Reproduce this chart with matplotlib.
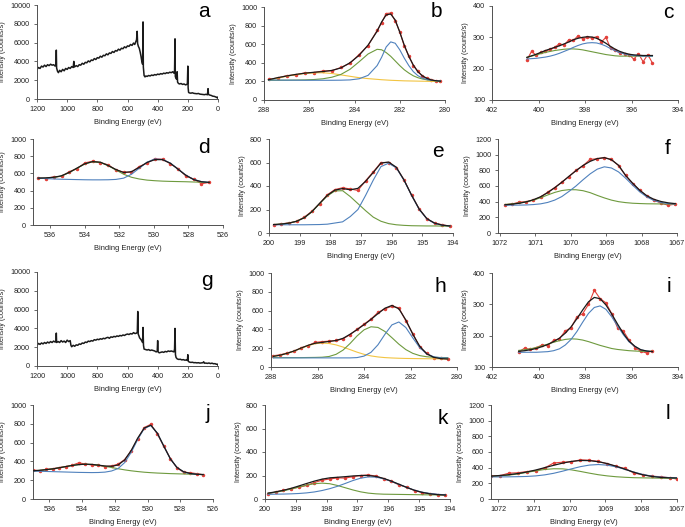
import matplotlib
matplotlib.use("Agg")
from matplotlib import pyplot as plt

plt.rcParams['font.family'] = ['Liberation Sans', 'DejaVu Sans']

# ---- survey spectra (a, g) ----
a_be = [1200, 1190, 1180, 1170, 1160, 1150, 1140, 1130, 1120, 1110, 1100, 1090, 1080, 1074, 1072, 1070,
        1064, 1058, 1050, 1040, 1030, 1020, 1010, 1000, 990, 980, 970, 960, 956, 952, 940, 930, 920, 910,
        900, 890, 880, 870, 860, 850, 840, 830, 820, 810, 800, 790, 780, 770, 760, 750, 740, 730, 720,
        710, 700, 690, 680, 670, 660, 650, 640, 630, 620, 610, 600, 590, 580, 570, 560, 552, 545, 540,
        536, 533, 528, 522, 516, 510, 505, 500, 497, 495, 490, 484, 478, 470, 460, 450, 440, 430, 420,
        410, 400, 390, 380, 370, 360, 350, 340, 330, 320, 310, 300, 292, 288, 285, 283, 279, 274, 271,
        268, 262, 255, 245, 235, 225, 215, 207, 203, 200, 198, 195, 190, 180, 170, 160, 150, 140, 130,
        120, 110, 100, 90, 80, 70, 66, 63, 55, 45, 35, 25, 15, 8, 3, 0]
a_cts = [3150, 3350, 3250, 3500, 3400, 3600, 3450, 3650, 3550, 3700, 3600, 3650, 3500, 3700, 5200, 3300,
         2950, 2800, 3050, 2900, 3150, 3000, 3250, 3150, 3350, 3250, 3450, 3350, 4000, 3400, 3550, 3450,
         3650, 3600, 3800, 3700, 3900, 3850, 4050, 3950, 4150, 4100, 4300, 4200, 4400, 4350, 4550, 4450,
         4650, 4600, 4800, 4700, 4900, 4850, 5050, 4950, 5150, 5100, 5300, 5200, 5400, 5350, 5550, 5450,
         5650, 5600, 5800, 5700, 5950, 5800, 6100, 6300, 7200, 5900, 5600, 5400, 5000, 4500, 4000, 3700,
         8200, 3400, 2500, 2350, 2450, 2400, 2500, 2450, 2550, 2500, 2600, 2550, 2650, 2600, 2700, 2650,
         2750, 2700, 2800, 2750, 2850, 2800, 2900, 2750, 3000, 6400, 2400, 2200, 2100, 2900, 1800, 1650,
         1600, 1650, 1550, 1600, 1500, 1550, 1600, 3500, 1200, 700, 650, 620, 660, 600, 580, 560, 590,
         520, 500, 480, 460, 500, 450, 1100, 480, 420, 380, 300, 280, 220, 150, 200, 80]

g_be = [1200, 1190, 1180, 1170, 1160, 1150, 1140, 1130, 1120, 1110, 1100, 1090, 1080, 1074, 1072, 1070,
        1060, 1050, 1040, 1030, 1020, 1010, 1000, 990, 980, 975, 970, 960, 950, 940, 930, 920, 910, 900,
        890, 880, 870, 860, 850, 840, 830, 820, 810, 800, 790, 780, 770, 760, 750, 740, 730, 720, 710,
        700, 690, 680, 670, 660, 650, 640, 630, 620, 610, 600, 590, 580, 570, 560, 550, 540, 535, 532,
        529, 524, 520, 510, 500, 497, 494, 490, 480, 470, 460, 450, 440, 430, 420, 410, 403, 400, 397,
        390, 380, 370, 360, 350, 340, 330, 320, 310, 300, 292, 288, 285, 282, 278, 270, 260, 250, 240,
        230, 220, 210, 203, 200, 197, 190, 180, 170, 160, 150, 140, 130, 120, 110, 100, 95, 90, 80, 70,
        60, 50, 40, 30, 20, 10, 5, 0]
g_cts = [2200, 2400, 2300, 2450, 2350, 2500, 2400, 2550, 2450, 2600, 2500, 2650, 2550, 2600, 3500, 2500,
         2600, 2500, 2700, 2550, 2650, 2500, 2750, 2600, 2700, 2200, 2050, 2200, 2100, 2250, 2200, 2350,
         2300, 2450, 2400, 2550, 2500, 2650, 2600, 2700, 2650, 2800, 2750, 2850, 2800, 2900, 2850, 2950,
         2900, 3000, 3050, 2950, 3100, 3050, 3150, 3100, 3200, 3150, 3250, 3200, 3300, 3250, 3350, 3400,
         3350, 3450, 3400, 3550, 3450, 3500, 3600, 5800, 3400, 3200, 3000, 2800, 2500, 4100, 2200, 1800,
         1750, 1700, 1750, 1650, 1700, 1650, 1600, 1500, 1550, 2700, 1500, 1400, 1450, 1500, 1450, 1550,
         1500, 1600, 1550, 1600, 1550, 1500, 1800, 4000, 1200, 900, 750, 700, 720, 650, 680, 620, 640,
         600, 1200, 500, 420, 380, 400, 350, 360, 330, 350, 310, 330, 350, 450, 300, 310, 280, 320, 260,
         300, 240, 250, 180, 200, 80]

# ---- b: C 1s ----
b_be = [287.8, 287.4, 287.0, 286.6, 286.2, 285.8, 285.4, 285.0, 284.6, 284.2, 283.8, 283.4, 283.0, 282.8,
        282.6, 282.4, 282.2, 282.0, 281.8, 281.6, 281.4, 281.2, 281.0, 280.8, 280.6, 280.4, 280.2]
b_raw = [222, 236, 262, 270, 292, 295, 312, 314, 350, 395, 488, 585, 748, 830, 930, 935, 850, 735, 580,
         475, 370, 310, 255, 235, 218, 205, 200]
b_fit = [218, 240, 258, 275, 288, 298, 306, 318, 345, 400, 480, 590, 740, 840, 915, 925, 860, 730, 590,
         470, 375, 305, 260, 232, 215, 207, 202]
b_blue = [215, 214, 213, 213, 212, 212, 212, 212, 213, 216, 228, 265, 370, 460, 570, 625, 610, 540, 450,
          370, 305, 262, 235, 220, 212, 207, 204]
b_green = [212, 212, 213, 214, 216, 220, 228, 245, 275, 330, 410, 495, 545, 540, 510, 470, 420, 370, 325,
           290, 260, 240, 226, 217, 211, 207, 204]
b_yellow = [215, 235, 255, 272, 285, 292, 293, 285, 270, 255, 240, 230, 222, 218, 215, 212, 210, 208, 206,
            205, 204, 203, 202, 201, 200, 199, 198]

# ---- c: N 1s ----
c_be = [400.5, 400.3, 400.1, 399.9, 399.7, 399.5, 399.3, 399.1, 398.9, 398.7, 398.5, 398.3, 398.1, 397.9,
        397.7, 397.5, 397.3, 397.1, 396.9, 396.7, 396.5, 396.3, 396.1, 395.9, 395.7, 395.5, 395.3, 395.1]
c_raw = [228, 255, 243, 252, 255, 262, 268, 280, 275, 292, 290, 305, 296, 300, 298, 302, 285, 300, 265,
         258, 250, 248, 245, 230, 248, 222, 245, 218]
c_fit = [236, 241, 246, 252, 258, 263, 268, 273, 279, 285, 292, 297, 300, 302, 301, 297, 290, 281, 271,
         262, 255, 250, 246, 244, 243, 242, 242, 242]
c_blue = [231, 232, 233, 235, 237, 240, 244, 249, 255, 261, 268, 274, 279, 282, 283, 282, 278, 272, 264,
          257, 251, 247, 244, 242, 241, 240, 240, 240]
c_green = [236, 240, 244, 248, 252, 255, 258, 260, 262, 263, 263, 262, 260, 257, 254, 251, 248, 245, 243,
           241, 240, 240, 240, 240, 240, 240, 240, 240]

# ---- d: O 1s ----
d_be = [536.7, 536.25, 535.8, 535.35, 534.9, 534.45, 534.0, 533.55, 533.1, 532.65, 532.2, 531.75, 531.3,
        530.85, 530.4, 529.95, 529.5, 529.05, 528.6, 528.15, 527.7, 527.25, 526.8]
d_raw = [548, 540, 560, 565, 620, 655, 722, 742, 725, 700, 640, 615, 612, 680, 720, 770, 765, 712, 655,
         570, 535, 480, 495]
d_fit = [545, 548, 555, 572, 612, 662, 712, 737, 730, 692, 645, 610, 620, 670, 727, 760, 760, 718, 648,
         578, 528, 503, 495]
d_blue = [545, 540, 535, 532, 530, 528, 526, 525, 525, 526, 530, 545, 590, 660, 730, 768, 762, 720, 650,
          580, 530, 505, 495]
d_green = [540, 545, 552, 570, 610, 660, 710, 735, 728, 690, 640, 590, 555, 535, 522, 515, 510, 507, 505,
           503, 500, 497, 495]

# ---- e: Cl 2p ----
e_be = [199.85, 199.6, 199.35, 199.1, 198.85, 198.6, 198.35, 198.1, 197.85, 197.6, 197.35, 197.1, 196.85,
        196.6, 196.35, 196.1, 195.85, 195.6, 195.35, 195.1, 194.85, 194.6, 194.35, 194.1]
e_raw = [65, 78, 86, 98, 135, 185, 250, 325, 370, 385, 375, 362, 445, 520, 600, 600, 555, 455, 320, 205,
         118, 85, 70, 58]
e_fit = [72, 76, 84, 100, 130, 182, 252, 320, 365, 378, 368, 380, 440, 515, 595, 604, 560, 452, 322, 202,
         122, 84, 67, 60]
e_blue = [70, 70, 70, 70, 70, 71, 72, 75, 85, 95, 140, 200, 320, 450, 565, 594, 555, 450, 320, 200, 120,
          82, 66, 60]
e_green = [72, 76, 84, 100, 130, 180, 250, 315, 358, 360, 310, 250, 190, 135, 100, 80, 70, 65, 62, 61, 60,
           60, 59, 58]

# ---- f: Na 1s ----
f_be = [1071.85, 1071.65, 1071.45, 1071.25, 1071.05, 1070.85, 1070.65, 1070.45, 1070.25, 1070.05, 1069.85,
        1069.65, 1069.45, 1069.25, 1069.05, 1068.85, 1068.65, 1068.45, 1068.25, 1068.05, 1067.85, 1067.65,
        1067.45, 1067.25, 1067.05]
f_raw = [362, 370, 395, 400, 420, 460, 520, 580, 650, 720, 800, 860, 940, 948, 962, 940, 860, 735, 630,
         545, 470, 420, 380, 355, 368]
f_fit = [360, 368, 380, 398, 425, 462, 515, 578, 647, 723, 795, 862, 915, 950, 962, 935, 865, 735, 635,
         545, 475, 430, 402, 385, 375]
f_blue = [355, 355, 356, 358, 363, 372, 390, 420, 465, 530, 600, 680, 755, 815, 845, 830, 780, 700, 610,
          525, 460, 415, 390, 376, 370]
f_green = [365, 372, 382, 398, 420, 450, 485, 518, 542, 553, 552, 540, 515, 480, 448, 420, 400, 388, 380,
           376, 373, 372, 371, 370, 370]

# ---- h: C 1s ----
h_be = [287.9, 287.6, 287.3, 287.0, 286.7, 286.4, 286.1, 285.8, 285.5, 285.2, 284.9, 284.6, 284.3, 284.0,
        283.7, 283.4, 283.1, 282.8, 282.5, 282.2, 281.9, 281.6, 281.3, 281.0, 280.7, 280.4]
h_raw = [120, 130, 150, 168, 205, 228, 262, 270, 275, 282, 300, 345, 400, 455, 510, 580, 620, 645, 630,
         490, 355, 210, 145, 100, 92, 88]
h_fit = [113, 126, 146, 171, 202, 231, 253, 262, 272, 282, 305, 348, 397, 450, 506, 568, 625, 655, 619,
         500, 348, 219, 140, 103, 89, 85]
h_blue = [97, 97, 97, 97, 97, 97, 97, 97, 97, 97, 97, 97, 100, 116, 156, 236, 348, 448, 479, 420, 309,
          205, 139, 109, 98, 96]
h_green = [100, 100, 100, 100, 100, 101, 102, 104, 112, 135, 180, 250, 330, 395, 428, 421, 378, 312, 243,
           185, 145, 121, 109, 103, 101, 100]
h_yellow = [112, 125, 145, 170, 200, 228, 248, 255, 250, 235, 212, 185, 158, 135, 118, 107, 100, 96, 93,
            91, 90, 89, 88, 87, 86, 85]

# ---- i: N 1s ----
i_be = [400.85, 400.6, 400.35, 400.1, 399.85, 399.6, 399.35, 399.1, 398.85, 398.6, 398.35, 398.1, 397.85,
        397.6, 397.35, 397.1, 396.85, 396.6, 396.35, 396.1, 395.85, 395.6, 395.35, 395.1]
i_raw = [148, 160, 156, 162, 170, 168, 185, 190, 215, 225, 260, 270, 300, 345, 318, 305, 270, 225, 215,
         185, 162, 150, 145, 152]
i_fit = [150, 152, 155, 159, 165, 172, 181, 192, 208, 228, 254, 282, 308, 322, 318, 298, 269, 237, 207,
         182, 166, 155, 151, 149]
i_blue = [147, 147, 147, 147, 148, 149, 152, 158, 170, 188, 213, 243, 271, 290, 295, 284, 260, 231, 203,
          180, 165, 155, 151, 149]
i_green = [153, 155, 158, 162, 167, 173, 179, 184, 188, 190, 189, 186, 181, 175, 169, 164, 159, 156, 154,
           152, 151, 150, 150, 150]

# ---- j: O 1s ----
j_be = [537.0, 536.6, 536.2, 535.8, 535.4, 535.0, 534.6, 534.2, 533.8, 533.4, 533.0, 532.6, 532.2, 531.8,
        531.4, 531.0, 530.6, 530.2, 529.8, 529.4, 529.0, 528.6, 528.2, 527.8, 527.4, 527.0, 526.6]
j_raw = [310, 300, 315, 322, 335, 345, 360, 385, 372, 362, 358, 345, 352, 370, 420, 510, 640, 760, 795,
         690, 560, 430, 330, 285, 280, 270, 258]
j_fit = [300, 305, 312, 320, 332, 345, 357, 366, 370, 368, 360, 351, 348, 362, 415, 516, 648, 755, 785,
         700, 560, 425, 335, 290, 272, 263, 260]
j_blue = [296, 295, 293, 291, 289, 287, 285, 283, 282, 281, 282, 286, 298, 324, 387, 496, 634, 750, 782,
          700, 560, 425, 335, 288, 270, 262, 260]
j_green = [300, 305, 312, 320, 332, 345, 357, 366, 370, 368, 360, 348, 335, 322, 310, 300, 292, 285, 280,
           276, 273, 270, 268, 266, 264, 262, 260]

# ---- k: Cl 2p ----
k_be = [199.9, 199.65, 199.4, 199.15, 198.9, 198.65, 198.4, 198.15, 197.9, 197.65, 197.4, 197.15, 196.9,
        196.65, 196.4, 196.15, 195.9, 195.65, 195.4, 195.15, 194.9, 194.65, 194.4, 194.15]
k_raw = [45, 60, 75, 88, 100, 115, 140, 160, 170, 180, 178, 190, 200, 205, 195, 172, 150, 120, 100, 72,
         55, 45, 38, 32]
k_fit = [50, 61, 74, 91, 111, 132, 152, 169, 180, 185, 190, 196, 200, 200, 192, 175, 152, 125, 98, 74,
         56, 44, 37, 34]
k_blue = [40, 41, 42, 44, 47, 52, 60, 72, 88, 108, 132, 157, 177, 188, 186, 172, 150, 124, 98, 75, 58,
          47, 40, 36]
k_green = [48, 58, 70, 85, 102, 118, 130, 135, 130, 115, 96, 77, 61, 50, 44, 41, 40, 39, 38, 37, 36, 35,
           35, 34]

# ---- l: Na 1s ----
l_be = [1072.2, 1071.95, 1071.7, 1071.45, 1071.2, 1070.95, 1070.7, 1070.45, 1070.2, 1069.95, 1069.7,
        1069.45, 1069.2, 1068.95, 1068.7, 1068.45, 1068.2, 1067.95, 1067.7, 1067.45, 1067.2, 1067.0]
l_raw = [295, 298, 330, 335, 350, 360, 395, 460, 470, 475, 500, 495, 480, 450, 415, 390, 330, 310, 290,
         285, 270, 255]
l_fit = [292, 300, 310, 325, 345, 370, 400, 430, 458, 480, 492, 490, 476, 452, 418, 380, 340, 308, 288,
         275, 270, 268]
l_blue = [282, 282, 283, 285, 288, 295, 308, 328, 355, 385, 413, 433, 440, 432, 410, 378, 343, 313, 292,
          280, 273, 270]
l_green = [288, 295, 305, 320, 340, 360, 377, 386, 385, 372, 352, 330, 310, 295, 284, 277, 272, 270, 268,
           266, 265, 264]

RED = '#E2403A'
BLUE = '#4F81BD'
GREEN = '#6E9A3E'
YELLOW = '#F2C442'
W, H = 685, 527

# pixel boxes (left, top, right, bottom)
boxes = {
    'a': (37, 5, 218, 99), 'b': (264, 7, 445, 100), 'c': (492, 6, 678, 100),
    'd': (33, 139, 223, 225), 'e': (269, 139, 453, 233), 'f': (498, 139, 677, 233),
    'g': (37, 272, 218, 366), 'h': (271, 273, 457, 367), 'i': (492, 273, 678, 367),
    'j': (33, 405, 213, 499), 'k': (265, 405, 450, 499), 'l': (491, 405, 677, 499),
}
letter_pos = {
    'a': (0.92, 0.93), 'b': (0.955, 0.95), 'c': (0.946, 0.93), 'd': (0.9, 0.9),
    'e': (0.92, 0.87), 'f': (0.95, 0.9), 'g': (0.94, 0.91), 'h': (0.91, 0.86),
    'i': (0.95, 0.86), 'j': (0.97, 0.91), 'k': (0.96, 0.86), 'l': (0.95, 0.91),
}

fig = plt.figure(figsize=(6.85, 5.27), dpi=100)
axes = {}
for key, (l, t, r, b) in boxes.items():
    axes[key] = fig.add_axes([l / W, 1 - b / H, (r - l) / W, (b - t) / H])


def style(ax, key, xlim, xticks, ylim, yticks):
    ax.set_xlim(*xlim)
    ax.set_ylim(*ylim)
    ax.set_xticks(xticks)
    ax.set_yticks(yticks)
    for s in ['top', 'right']:
        ax.spines[s].set_visible(False)
    for s in ['left', 'bottom']:
        ax.spines[s].set_linewidth(0.7)
        ax.spines[s].set_color('#505050')
    ax.tick_params(direction='out', length=2.5, width=0.6, color='#505050',
                   labelsize=5.2, pad=2.5, labelcolor='#222222')
    ax.set_xlabel('Binding Energy (eV)', fontsize=5.4, labelpad=4.5, color='#222222')
    ax.set_ylabel('Intensity (counts/s)', fontsize=5.2, labelpad=2.5, color='#222222')
    lx, ly = letter_pos[key]
    ax.text(lx, ly, key, transform=ax.transAxes, fontsize=15, ha='center', va='center')


def fit_panel(ax, x, raw, fit, comps):
    ax.plot(x, raw, color=RED, lw=0.8, marker='o', ms=1.5, zorder=1)
    for y, c in comps:
        ax.plot(x, y, color=c, lw=0.8, zorder=2)
    ax.plot(x, fit, color='#1a1a1a', lw=0.9, zorder=3)


axes['a'].plot(a_be, a_cts, color='#1a1a1a', lw=1.1)
style(axes['a'], 'a', (1200, 0), range(1200, -1, -200), (0, 10000), range(0, 10001, 2000))
axes['g'].plot(g_be, g_cts, color='#1a1a1a', lw=1.1)
style(axes['g'], 'g', (1200, 0), range(1200, -1, -200), (0, 10000), range(0, 10001, 2000))

fit_panel(axes['b'], b_be, b_raw, b_fit, [(b_yellow, YELLOW), (b_green, GREEN), (b_blue, BLUE)])
style(axes['b'], 'b', (288, 280), range(288, 279, -2), (0, 1000), range(0, 1001, 200))
fit_panel(axes['h'], h_be, h_raw, h_fit, [(h_yellow, YELLOW), (h_green, GREEN), (h_blue, BLUE)])
style(axes['h'], 'h', (288, 280), range(288, 279, -2), (0, 1000), range(0, 1001, 200))

fit_panel(axes['c'], c_be, c_raw, c_fit, [(c_green, GREEN), (c_blue, BLUE)])
style(axes['c'], 'c', (402, 394), range(402, 393, -2), (100, 400), range(100, 401, 100))
fit_panel(axes['i'], i_be, i_raw, i_fit, [(i_green, GREEN), (i_blue, BLUE)])
style(axes['i'], 'i', (402, 394), range(402, 393, -2), (100, 400), range(100, 401, 100))

fit_panel(axes['d'], d_be, d_raw, d_fit, [(d_green, GREEN), (d_blue, BLUE)])
style(axes['d'], 'd', (537, 526), range(536, 525, -2), (0, 1000), range(0, 1001, 200))
fit_panel(axes['j'], j_be, j_raw, j_fit, [(j_green, GREEN), (j_blue, BLUE)])
style(axes['j'], 'j', (537, 526), range(536, 525, -2), (0, 1000), range(0, 1001, 200))

fit_panel(axes['e'], e_be, e_raw, e_fit, [(e_green, GREEN), (e_blue, BLUE)])
style(axes['e'], 'e', (200, 194), range(200, 193, -1), (0, 800), range(0, 801, 200))
fit_panel(axes['k'], k_be, k_raw, k_fit, [(k_green, GREEN), (k_blue, BLUE)])
style(axes['k'], 'k', (200, 194), range(200, 193, -1), (0, 800), range(0, 801, 200))

fit_panel(axes['f'], f_be, f_raw, f_fit, [(f_green, GREEN), (f_blue, BLUE)])
style(axes['f'], 'f', (1072.05, 1067), range(1072, 1066, -1), (0, 1200), range(0, 1201, 200))
fit_panel(axes['l'], l_be, l_raw, l_fit, [(l_green, GREEN), (l_blue, BLUE)])
style(axes['l'], 'l', (1072.2, 1067), range(1072, 1066, -1), (0, 1200), range(0, 1201, 200))

fig.savefig('out.png', dpi=100)
